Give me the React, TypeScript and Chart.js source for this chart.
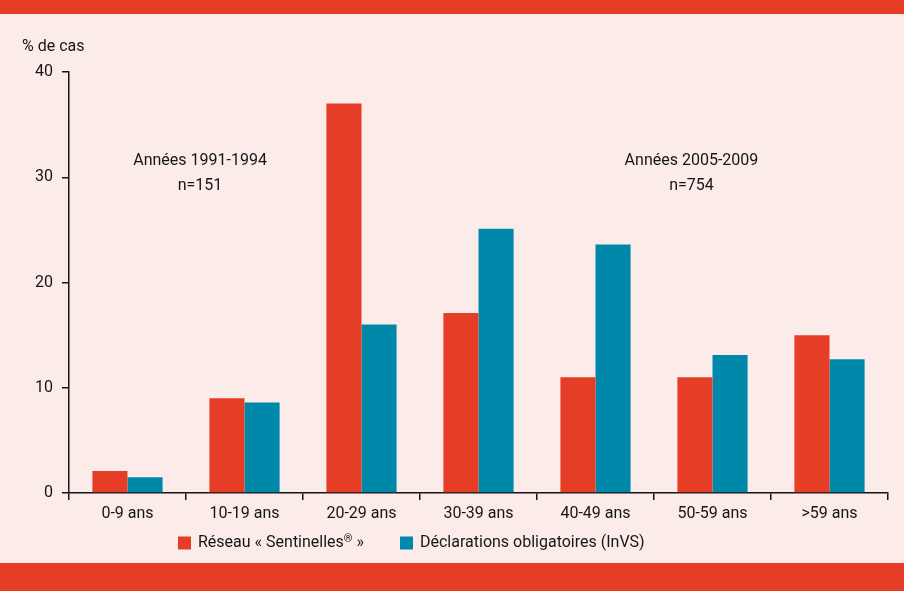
import React, { useEffect, useRef } from "react";
import { Chart, registerables } from "chart.js";

Chart.register(...registerables);

const categories = ["0-9 ans", "10-19 ans", "20-29 ans", "30-39 ans", "40-49 ans", "50-59 ans", ">59 ans"];
const sentinelles = [2.1, 9.0, 37.0, 17.1, 11.0, 11.0, 15.0];
const declarations = [1.5, 8.6, 16.0, 25.1, 23.6, 13.1, 12.7];
const seriesLabels = ["Réseau « Sentinelles® »", "Déclarations obligatoires (InVS)"];
const yTicks = [0, 10, 20, 30, 40];
const yTitle = "% de cas";
const annotations = [
  { x: 0.62, y: 31.5, text: "Années 1991-1994" },
  { x: 0.62, y: 29.2, text: "n=151" },
  { x: 4.82, y: 31.5, text: "Années 2005-2009" },
  { x: 4.82, y: 29.2, text: "n=754" },
];

const RED = "#e63d27";
const TEAL = "#0088ab";
const BG = "#fbece9";
const INK = "#161616";
const FONT = "Roboto, 'DejaVu Sans', sans-serif";
const LEGEND_OFFSETS = [109, 331];

function drawLabel(ctx: any, text: string, x: number, y: number) {
  // draws text with "®" as a small superscript
  const parts = text.split("®");
  let cx = x;
  parts.forEach((p, i) => {
    ctx.font = `16px ${FONT}`;
    ctx.fillText(p, cx, y);
    cx += ctx.measureText(p).width;
    if (i < parts.length - 1) {
      ctx.font = `11px ${FONT}`;
      ctx.fillText("®", cx, y - 4);
      cx += ctx.measureText("®").width;
    }
  });
  ctx.font = `16px ${FONT}`;
}

const overlayPlugin = {
  id: "overlay",
  afterDraw(chart: any) {
    const ctx = chart.ctx;
    const xs = chart.scales.x;
    const ys = chart.scales.y;
    const area = chart.chartArea;
    ctx.save();
    ctx.fillStyle = INK;
    ctx.font = `16px ${FONT}`;
    ctx.textAlign = "center";
    ctx.textBaseline = "middle";
    annotations.forEach((a) => {
      ctx.fillText(a.text, xs.getPixelForValue(a.x), ys.getPixelForValue(a.y));
    });
    ctx.textAlign = "left";
    ctx.fillText(yTitle, area.left - 47, area.top - 25);
    const ly = area.bottom + 50;
    chart.data.datasets.forEach((ds: any, i: number) => {
      const lx = area.left + LEGEND_OFFSETS[i];
      ctx.fillStyle = ds.backgroundColor;
      ctx.fillRect(lx, ly - 6.5, 13, 13);
      ctx.fillStyle = INK;
      ctx.textAlign = "left";
      drawLabel(ctx, ds.label, lx + 20, ly);
    });
    ctx.restore();
  },
};

export default function App() {
  const ref = useRef<HTMLCanvasElement | null>(null);
  useEffect(() => {
    if (!ref.current) return;
    const chart = new Chart(ref.current, {
      type: "bar",
      data: {
        labels: categories,
        datasets: [
          { label: seriesLabels[0], data: sentinelles, backgroundColor: RED, categoryPercentage: 0.6, barPercentage: 1.0 },
          { label: seriesLabels[1], data: declarations, backgroundColor: TEAL, categoryPercentage: 0.6, barPercentage: 1.0 },
        ],
      },
      options: {
        animation: false,
        responsive: false,
        devicePixelRatio: 1,
        layout: { padding: { top: 72, right: 16, bottom: 0, left: 0 } },
        plugins: { legend: { display: false }, tooltip: { enabled: false } },
        scales: {
          x: {
            offset: true,
            grid: { offset: true, drawOnChartArea: false, drawTicks: true, tickLength: 7, color: INK, lineWidth: 1.5 },
            border: { display: true, color: INK, width: 1.5 },
            ticks: { color: INK, font: { family: FONT, size: 16 }, padding: 4, maxRotation: 0 },
            afterFit: (s: any) => { s.height = 98; },
          },
          y: {
            min: 0,
            max: 40,
            afterBuildTicks: (s: any) => { s.ticks = yTicks.map((v) => ({ value: v })); },
            grid: { drawOnChartArea: false, drawTicks: true, tickLength: 7, color: INK, lineWidth: 1.5 },
            border: { display: true, color: INK, width: 1.5 },
            ticks: { color: INK, font: { family: FONT, size: 16 }, padding: 9 },
            afterFit: (s: any) => { s.width = 69; },
          },
        },
      },
      plugins: [overlayPlugin],
    });
    return () => chart.destroy();
  }, []);
  return (
    <div style={{ position: "fixed", left: 0, top: 0, width: 904, height: 591, background: BG, overflow: "hidden" }}>
      <div style={{ position: "absolute", left: 0, top: 0, width: 904, height: 14, background: RED }} />
      <div style={{ position: "absolute", left: 0, top: 563, width: 904, height: 28, background: RED }} />
      <canvas ref={ref} width={904} height={591} style={{ position: "absolute", left: 0, top: 0, width: 904, height: 591 }} />
    </div>
  );
}
